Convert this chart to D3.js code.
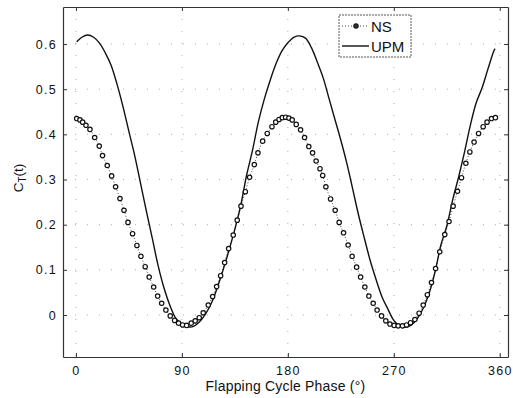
<!DOCTYPE html>
<html><head><meta charset="utf-8">
<script src="https://cdn.jsdelivr.net/npm/d3@7"></script>
<style>
html,body{margin:0;padding:0;background:#fff;}
svg{display:block;}
text{font-family:"Liberation Sans",Arial,sans-serif;fill:#111;}
</style></head>
<body>
<svg id="chart" width="513" height="398"></svg>
<script>
// ---- data ----
const xTicks = [0, 90, 180, 270, 360];
const yTicks = [0, 0.1, 0.2, 0.3, 0.4, 0.5, 0.6];
const xLabel = "Flapping Cycle Phase (°)";
const seriesNames = ["NS", "UPM"];

const nsPhase = [0.6,3.4,5.7,8.5,11.9,15.9,19.8,22.6,26.6,30.3,33.7,37.4,40.8,44.2,48.1,51.8,55.2,58.8,62.2,66,69.4,72.8,76.4,80.1,83.8,87.2,90.6,94,97.9,101.3,104.7,108.1,112.4,116.1,119.5,122.9,126.3,129.7,133.6,137,140.2,143.9,147.5,151.5,154.6,158.6,162.5,166.5,169.7,172.5,175.3,178.1,180.9,183.7,187.1,190.8,194.2,197.8,201,204,207.3,209.6,212.3,216.3,220.2,223.6,227.3,231.2,234.6,238.4,241.8,245.4,248.8,252.5,255.8,259.6,263.2,266.7,270.3,273.7,277.4,280.8,284.2,287.9,291.5,295,298.5,302,305.5,309,313.3,316.9,320.4,324.1,327.5,331.2,334.6,338.2,342,345.9,349.2,353,356.3];
const nsCT = [0.435,0.432,0.427,0.420,0.411,0.393,0.374,0.353,0.331,0.308,0.284,0.258,0.232,0.205,0.180,0.154,0.130,0.107,0.084,0.062,0.042,0.026,0.011,-0.002,-0.012,-0.018,-0.022,-0.023,-0.018,-0.013,-0.006,0.005,0.022,0.041,0.063,0.087,0.116,0.147,0.177,0.210,0.241,0.273,0.305,0.333,0.359,0.385,0.402,0.417,0.427,0.433,0.437,0.438,0.436,0.432,0.422,0.410,0.393,0.373,0.359,0.341,0.324,0.309,0.284,0.257,0.232,0.205,0.182,0.155,0.130,0.106,0.084,0.062,0.042,0.026,0.011,-0.002,-0.013,-0.020,-0.023,-0.024,-0.024,-0.022,-0.017,-0.010,0.004,0.022,0.045,0.072,0.103,0.140,0.178,0.207,0.241,0.274,0.304,0.336,0.361,0.383,0.402,0.417,0.427,0.435,0.437];

const upmPhase = [0.6,5,10,15,20,25,30,35,40,45,50,55,60,65,70,75,80,85,90,95,100,105,110,115,120,125,130,135,140,145,150,155,160,165,170,175,180,185,190,195,200,205,210,215,220,225,230,235,240,245,250,255,260,265,270,275,280,285,290,295,300,305,310,315,320,325,330,335,340,345,350,355,356];
const upmCT = [0.605,0.615,0.620,0.615,0.602,0.580,0.552,0.510,0.461,0.406,0.352,0.290,0.228,0.168,0.107,0.058,0.020,-0.008,-0.020,-0.026,-0.025,-0.015,0.002,0.026,0.060,0.100,0.143,0.190,0.243,0.310,0.365,0.428,0.478,0.520,0.557,0.585,0.603,0.615,0.618,0.613,0.592,0.560,0.525,0.479,0.433,0.387,0.337,0.280,0.222,0.170,0.120,0.078,0.040,0.013,-0.012,-0.024,-0.027,-0.022,-0.008,0.015,0.048,0.095,0.155,0.197,0.255,0.305,0.360,0.420,0.470,0.503,0.545,0.585,0.590];

// ---- layout ----
const svg = d3.select("#chart");
const L = 63, R = 508, T = 7, B = 357;
const x = d3.scaleLinear().domain([-11, 367]).range([L, R]);
const y = d3.scaleLinear().domain([-0.093, 0.682]).range([B, T]);

// grid (faint, sparse dots)
const grid = svg.append("g");
grid.selectAll("line.gx").data(xTicks).join("line")
  .attr("x1", d => x(d)).attr("x2", d => x(d)).attr("y1", T).attr("y2", B)
  .attr("stroke", "#999").attr("stroke-width", 0.8).attr("stroke-dasharray", "1 11");
grid.selectAll("line.gy").data(yTicks).join("line")
  .attr("y1", d => y(d)).attr("y2", d => y(d)).attr("x1", L).attr("x2", R)
  .attr("stroke", "#999").attr("stroke-width", 0.8).attr("stroke-dasharray", "1 11");

// axes with inward ticks on all sides
const fmt = d => d === 0 ? "0" : d3.format(".1f")(d);
const axB = svg.append("g").attr("transform", `translate(0,${B})`)
  .call(d3.axisBottom(x).tickValues(xTicks).tickSizeInner(-4).tickSizeOuter(0).tickPadding(9));
const axL = svg.append("g").attr("transform", `translate(${L},0)`)
  .call(d3.axisLeft(y).tickValues(yTicks).tickFormat(fmt).tickSizeInner(-4).tickSizeOuter(0).tickPadding(6));
const axT = svg.append("g").attr("transform", `translate(0,${T})`)
  .call(d3.axisTop(x).tickValues(xTicks).tickSizeInner(-4).tickSizeOuter(0).tickFormat(""));
const axR = svg.append("g").attr("transform", `translate(${R},0)`)
  .call(d3.axisRight(y).tickValues(yTicks).tickSizeInner(-4).tickSizeOuter(0).tickFormat(""));
[axB, axL, axT, axR].forEach(a => {
  a.select(".domain").attr("stroke", "#333").attr("stroke-width", 1.2);
  a.selectAll(".tick line").attr("stroke", "#333");
  a.selectAll("text").attr("font-size", 12.5).attr("font-family", "Liberation Sans, Arial, sans-serif")
    .attr("fill", "#111").style("letter-spacing", "1.3px");
});

// series
const nsData = nsPhase.map((p, i) => [p, nsCT[i]]);
const upmData = upmPhase.map((p, i) => [p, upmCT[i]]);
const line = d3.line().x(d => x(d[0])).y(d => y(d[1])).curve(d3.curveMonotoneX);

svg.append("path").datum(nsData).attr("d", line)
  .attr("fill", "none").attr("stroke", "#333").attr("stroke-width", 0.9).attr("stroke-dasharray", "1 2");
svg.append("path").datum(upmData).attr("d", d3.line().x(d => x(d[0])).y(d => y(d[1])).curve(d3.curveCatmullRom))
  .attr("fill", "none").attr("stroke", "#111").attr("stroke-width", 1.4);
svg.append("g").selectAll("circle").data(nsData).join("circle")
  .attr("cx", d => x(d[0])).attr("cy", d => y(d[1])).attr("r", 2.2)
  .attr("fill", "#fff").attr("stroke", "#111").attr("stroke-width", 1.2);

// axis labels
svg.append("text").attr("x", (L + R) / 2).attr("y", 391).attr("text-anchor", "middle")
  .attr("font-size", 14).style("letter-spacing", "0.2px").text(xLabel);
const yl = svg.append("text").attr("transform", "translate(23,178) rotate(-90)")
  .attr("text-anchor", "middle").attr("font-size", 13.5);
yl.append("tspan").text("C");
yl.append("tspan").attr("font-size", 10).attr("dy", 3).text("T");
yl.append("tspan").attr("dy", -3).text("(t)");

// legend
const lg = svg.append("g");
lg.append("rect").attr("x", 339).attr("y", 15).attr("width", 72).attr("height", 42)
  .attr("fill", "#fff").attr("stroke", "#444").attr("stroke-width", 0.9).attr("stroke-dasharray", "2 1");
lg.append("line").attr("x1", 342).attr("x2", 369).attr("y1", 26).attr("y2", 26)
  .attr("stroke", "#333").attr("stroke-width", 0.9).attr("stroke-dasharray", "1 2");
lg.append("circle").attr("cx", 356).attr("cy", 26).attr("r", 2.2)
  .attr("fill", "#333").attr("stroke", "#111").attr("stroke-width", 1.1);
lg.append("line").attr("x1", 342).attr("x2", 369).attr("y1", 46).attr("y2", 46)
  .attr("stroke", "#111").attr("stroke-width", 1.4);
lg.append("text").attr("x", 371).attr("y", 32).attr("font-size", 15).text(seriesNames[0]);
lg.append("text").attr("x", 371).attr("y", 52).attr("font-size", 15).text(seriesNames[1]);
</script>
</body></html>
